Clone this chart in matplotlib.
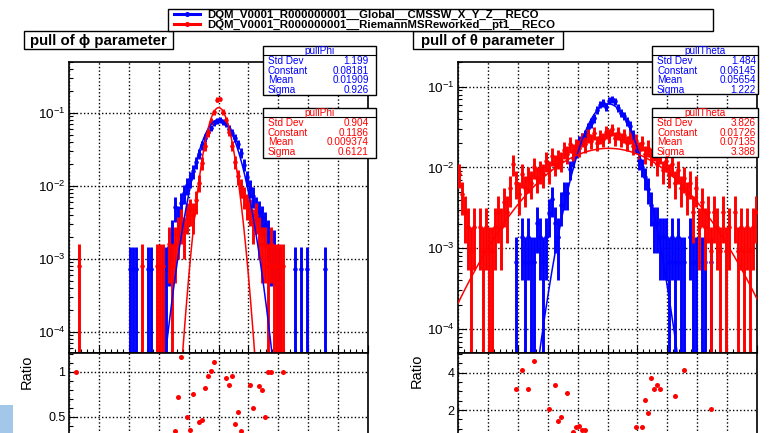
"""
Pull distributions of the phi and theta track parameters, Global vs RiemannMSReworked,
with Gaussian fits and the ratio pad underneath (ROOT DQM style).
"""

import numpy as np
import matplotlib.pyplot as plt
from matplotlib.patches import Rectangle
from matplotlib.lines import Line2D
from matplotlib.ticker import (MultipleLocator, LogLocator, NullFormatter, FuncFormatter,
                               FixedLocator)

plt.rcParams['font.family'] = ['Liberation Sans', 'DejaVu Sans']
plt.rcParams['mathtext.fontset'] = 'custom'
plt.rcParams['mathtext.rm'] = 'Liberation Sans'
plt.rcParams['mathtext.it'] = 'Liberation Sans:italic'
plt.rcParams['mathtext.bf'] = 'Liberation Sans:bold'

W, H = 769, 433
BLUE = '#0000ff'
RED = '#ff0000'

# ============================================================
# DATA (entries per bin, 100 bins of 0.2 on [-10, 10])
# ============================================================
X_MIN, X_MAX, N_BINS = -10, 10, 100

PHI_GLOBAL = [
    0, 0, 0, 0, 0, 0, 0, 0, 0, 0,
    0, 0, 0, 0, 0, 0, 0, 0, 0, 0,
    1, 1, 1, 0, 0, 0, 1, 1, 0, 0,
    0, 1, 1, 2, 3, 7, 5, 8, 11, 14,
    17, 22, 29, 38, 50, 62, 75, 86, 100, 108,
    110, 104, 97, 84, 74, 63, 51, 39, 27, 18,
    13, 10, 7, 6, 5, 4, 3, 2, 2, 1,
    1, 0, 0, 0, 0, 1, 0, 1, 0, 1,
    0, 0, 0, 0, 0, 1, 0, 0, 0, 0,
    0, 0, 0, 0, 0, 0, 0, 0, 0, 0,
]
PHI_RIEMANN = [
    0, 0, 0, 1, 0, 0, 0, 0, 0, 0,
    0, 0, 0, 0, 0, 0, 0, 0, 0, 0,
    0, 0, 0, 0, 1, 0, 0, 0, 0, 1,
    1, 1, 0, 2, 1, 2, 3, 4, 3, 5,
    6, 5, 8, 14, 26, 44, 68, 96, 128, 192,
    197, 130, 100, 70, 45, 27, 17, 12, 9, 7,
    6, 4, 5, 3, 2, 2, 1, 2, 1, 1,
    1, 1, 0, 0, 0, 0, 0, 0, 0, 0,
    0, 0, 0, 0, 0, 0, 0, 0, 0, 0,
    0, 0, 0, 0, 0, 0, 0, 0, 0, 0,
]
THETA_GLOBAL = [
    0, 0, 0, 0, 0, 0, 0, 0, 0, 0,
    0, 0, 0, 0, 0, 0, 0, 0, 0, 1,
    0, 2, 1, 2, 1, 1, 3, 2, 1, 2,
    4, 6, 3, 2, 5, 7, 7, 14, 19, 24,
    30, 33, 37, 45, 52, 60, 75, 88, 92, 82,
    98, 102, 97, 80, 70, 64, 55, 48, 36, 27,
    18, 15, 11, 8, 5, 3, 3, 2, 2, 2,
    1, 2, 1, 2, 1, 1, 0, 2, 1, 1,
    0, 1, 1, 0, 1, 0, 0, 0, 0, 0,
    0, 0, 0, 0, 0, 0, 0, 0, 0, 0,
]
THETA_RIEMANN = [
    9, 5, 3, 2, 1, 2, 0, 2, 1, 2,
    1, 1, 2, 3, 2, 4, 3, 6, 12, 7,
    5, 9, 6, 8, 7, 11, 8, 10, 9, 13,
    10, 15, 12, 14, 13, 18, 16, 21, 17, 20,
    19, 24, 21, 27, 23, 29, 22, 26, 24, 30,
    27, 32, 25, 29, 24, 27, 22, 26, 20, 23,
    18, 22, 16, 19, 15, 17, 12, 16, 10, 13,
    9, 12, 7, 10, 6, 8, 5, 7, 3, 6,
    2, 4, 2, 3, 1, 3, 2, 1, 3, 1,
    2, 0, 3, 1, 2, 1, 2, 1, 2, 3,
]

# Gaussian fit parameters (Constant, Mean, Sigma) from the stats boxes
PHI_GLOBAL_FIT = (0.08181, 0.01909, 0.926)
PHI_RIEMANN_FIT = (0.1186, 0.009374, 0.6121)
THETA_GLOBAL_FIT = (0.06145, 0.05654, 1.222)
THETA_RIEMANN_FIT = (0.01726, 0.07135, 3.388)

STAT_NAMES = ['Std Dev', 'Constant', 'Mean', 'Sigma']
PHI_GLOBAL_STATS = ['1.199', '0.08181', '0.01909', '0.926']
PHI_RIEMANN_STATS = ['0.904', '0.1186', '0.009374', '0.6121']
THETA_GLOBAL_STATS = ['1.484', '0.06145', '0.05654', '1.222']
THETA_RIEMANN_STATS = ['3.826', '0.01726', '0.07135', '3.388']

# ratio pad points (visible part)
PHI_RATIO_X = [-9.5, -2.9, -2.7, -2.5, -2.1, -1.9, -1.7, -1.3, -1.1, -0.9, -0.7, -0.5, -0.3,
               0.5, 0.7, 0.9, 1.1, 1.3, 1.5, 2.1, 2.3, 2.7, 2.9, 3.1, 3.3, 3.5, 4.3]
PHI_RATIO_Y = [1.0, 0.34, 0.72, 1.17, 0.5, 0.36, 0.76, 0.44, 0.47, 0.82, 0.95, 1.01, 1.11,
               0.93, 0.85, 0.95, 0.42, 0.55, 0.34, 0.86, 0.6, 0.84, 0.8, 0.5, 1.0, 1.0, 1.0]
THETA_RATIO_X = [-6.1, -5.7, -5.3, -4.9, -3.9, -3.5, -3.3, -3.1, -2.7, -2.3, -2.1, -1.9, -1.7,
                 -1.5, 1.9, 2.3, 2.5, 2.7, 2.9, 3.1, 3.3, 3.5, 4.5, 5.1, 6.9]
THETA_RATIO_Y = [3.11, 4.14, 3.11, 4.64, 2.04, 3.34, 1.43, 1.64, 2.93, 0.84, 1.07, 1.14, 0.93,
                 0.93, 1.07, 1.1, 2.54, 1.86, 3.73, 3.11, 3.34, 3.11, 2.75, 4.14, 2.04]
PHI_RATIO_TICKS = [0.5, 1.0]
THETA_RATIO_TICKS = [2, 4]

LEGEND_LABELS = ['DQM_V0001_R000000001__Global__CMSSW_X_Y_Z__RECO',
                 'DQM_V0001_R000000001__RiemannMSReworked__pt1__RECO']

GRID_LS = (0, (1.0, 1.6))


def fx(x):
    return x / W


def fy(y):
    return 1 - y / H


def px_axes(x0, y0, x1, y1):
    return fig.add_axes([x0 / W, 1 - y1 / H, (x1 - x0) / W, (y1 - y0) / H])


def style_axes(ax):
    ax.set_xlim(X_MIN, X_MAX)
    ax.xaxis.set_major_locator(MultipleLocator(2))
    ax.xaxis.set_minor_locator(MultipleLocator(0.4))
    ax.tick_params(which='both', direction='in', top=False, right=False,
                   labelbottom=False, pad=2.5, width=0.8)
    ax.tick_params(which='major', length=6)
    ax.tick_params(which='minor', length=3)
    ax.grid(True, which='major', color='k', ls=GRID_LS, lw=1.0)
    for s in ax.spines.values():
        s.set_linewidth(1.2)
    ax.set_facecolor('white')


def draw_hist(ax, counts, color, z):
    c = np.array(counts, dtype=float)
    n = c.sum()
    edges = np.linspace(X_MIN, X_MAX, N_BINS + 1)
    x = 0.5 * (edges[:-1] + edges[1:])
    y = c / n
    err = np.sqrt(c) / n
    m = c > 0
    ax.vlines(x[m], np.maximum(y[m] - err[m], 1e-8), y[m] + err[m], color=color, lw=2.1, zorder=z)
    ax.hlines(y[m], edges[:-1][m], edges[1:][m], color=color, lw=1.0, zorder=z)
    ax.plot(x[m], y[m], 'o', color=color, ms=3.2, mew=0, zorder=z)


def draw_fit(ax, pars, color, z):
    a, mu, sig = pars
    xs = np.linspace(X_MIN, X_MAX, 500)
    ax.plot(xs, a * np.exp(-0.5 * ((xs - mu) / sig) ** 2), color=color, lw=1.1, zorder=z)


def fig_rect(x0, y0, x1, y1, lw=1.0, z=5):
    fig.add_artist(Rectangle((fx(x0), fy(y1)), (x1 - x0) / W, (y1 - y0) / H,
                             transform=fig.transFigure, fc='white', ec='black', lw=lw, zorder=z))


def stats_box(x0, y0, x1, y1, title, values, color, vpad):
    fig_rect(x0, y0, x1, y1)
    fig.add_artist(Line2D([fx(x0), fx(x1)], [fy(y0 + 9), fy(y0 + 9)], transform=fig.transFigure,
                          color='k', lw=0.8, zorder=6))
    fig.text(fx((x0 + x1) / 2), fy(y0 + 4.8), title, color=color, ha='center', va='center',
             fontsize=7.2, zorder=7)
    for k, (name, val) in enumerate(zip(STAT_NAMES, values)):
        yy = y0 + 15.3 + 9.5 * k
        fig.text(fx(x0 + 5), fy(yy), name, color=color, ha='left', va='center', fontsize=7.2, zorder=7)
        fig.text(fx(x1 - vpad), fy(yy), val, color=color, ha='right', va='center', fontsize=7.2, zorder=7)


# ============================================================
# FIGURE
# ============================================================
fig = plt.figure(figsize=(W / 100, H / 100), dpi=100)

panels = [
    dict(x0=69, x1=368, ylim=(10 ** -4.288, 10 ** -0.30), data=(PHI_GLOBAL, PHI_RIEMANN),
         fits=(PHI_GLOBAL_FIT, PHI_RIEMANN_FIT), rx=PHI_RATIO_X, ry=PHI_RATIO_Y,
         rlim=(-0.312, 1.21), rticks=PHI_RATIO_TICKS, rmin=0.1),
    dict(x0=458, x1=757, ylim=(10 ** -4.297, 10 ** -0.694), data=(THETA_GLOBAL, THETA_RIEMANN),
         fits=(THETA_GLOBAL_FIT, THETA_RIEMANN_FIT), rx=THETA_RATIO_X, ry=THETA_RATIO_Y,
         rlim=(-2.28, 5.055), rticks=THETA_RATIO_TICKS, rmin=0.5),
]

for p in panels:
    ax = px_axes(p['x0'], 62, p['x1'], 353)
    style_axes(ax)
    ax.set_yscale('log')
    ax.set_ylim(*p['ylim'])
    ax.yaxis.set_major_locator(LogLocator(base=10, numticks=10))
    ax.yaxis.set_minor_locator(LogLocator(base=10, subs=np.arange(2, 10), numticks=30))
    ax.yaxis.set_minor_formatter(NullFormatter())
    ax.tick_params(axis='y', labelsize=9.7)
    draw_hist(ax, p['data'][0], BLUE, 2)
    draw_hist(ax, p['data'][1], RED, 3)
    draw_fit(ax, p['fits'][0], BLUE, 4)
    draw_fit(ax, p['fits'][1], RED, 5)

    # ratio pad, its lower part runs past the bottom of the picture
    axr = px_axes(p['x0'], 353, p['x1'], 490)
    style_axes(axr)
    axr.set_ylim(*p['rlim'])
    axr.yaxis.set_major_locator(FixedLocator(p['rticks']))
    axr.yaxis.set_minor_locator(MultipleLocator(p['rmin']))
    axr.yaxis.set_major_formatter(FuncFormatter(lambda v, pos: f'{v:g}'))
    axr.tick_params(axis='y', labelsize=9)
    axr.plot(p['rx'], p['ry'], 'o', color=RED, ms=3.6, mew=0, zorder=3)

# ratio labels
fig.text(fx(27), fy(372), 'Ratio', rotation=90, ha='center', va='center', fontsize=10.5)
fig.text(fx(416.5), fy(371), 'Ratio', rotation=90, ha='center', va='center', fontsize=10.5)

# titles
fig_rect(24, 31, 173, 49)
fig.text(fx(98.5), fy(44.5), 'pull of ϕ parameter', ha='center', va='baseline',
         fontsize=10.8, fontweight='bold', zorder=7)
fig_rect(413, 31, 563, 49)
fig.text(fx(488), fy(44.5), 'pull of θ parameter', ha='center', va='baseline',
         fontsize=10.8, fontweight='bold', zorder=7)

# legend
fig_rect(168, 9, 713, 31)
for yy, col, lab in [(14, BLUE, LEGEND_LABELS[0]), (24, RED, LEGEND_LABELS[1])]:
    fig.add_artist(Line2D([fx(174), fx(200)], [fy(yy), fy(yy)], transform=fig.transFigure,
                          color=col, lw=2.2, zorder=6))
    fig.add_artist(Line2D([fx(187)], [fy(yy)], transform=fig.transFigure, color=col,
                          marker='o', ms=3.6, mew=0, zorder=6))
    fig.text(fx(207), fy(yy + 3.5), lab, ha='left', va='baseline', fontsize=8.2,
             fontweight='bold', zorder=7)

# stats boxes
stats_box(263, 46, 376, 95, 'pullPhi', PHI_GLOBAL_STATS, BLUE, 7)
stats_box(263, 108, 376, 158, 'pullPhi', PHI_RIEMANN_STATS, RED, 7)
stats_box(652, 46, 758, 94, 'pullTheta', THETA_GLOBAL_STATS, BLUE, 2)
stats_box(652, 108, 758, 157, 'pullTheta', THETA_RIEMANN_STATS, RED, 2)

# light blue patch in the lower left corner
fig.add_artist(Rectangle((0, fy(433)), 13 / W, 28 / H, transform=fig.transFigure,
                         fc='#a3c7e8', ec='none', zorder=8))

fig.savefig('out.png', dpi=100)
